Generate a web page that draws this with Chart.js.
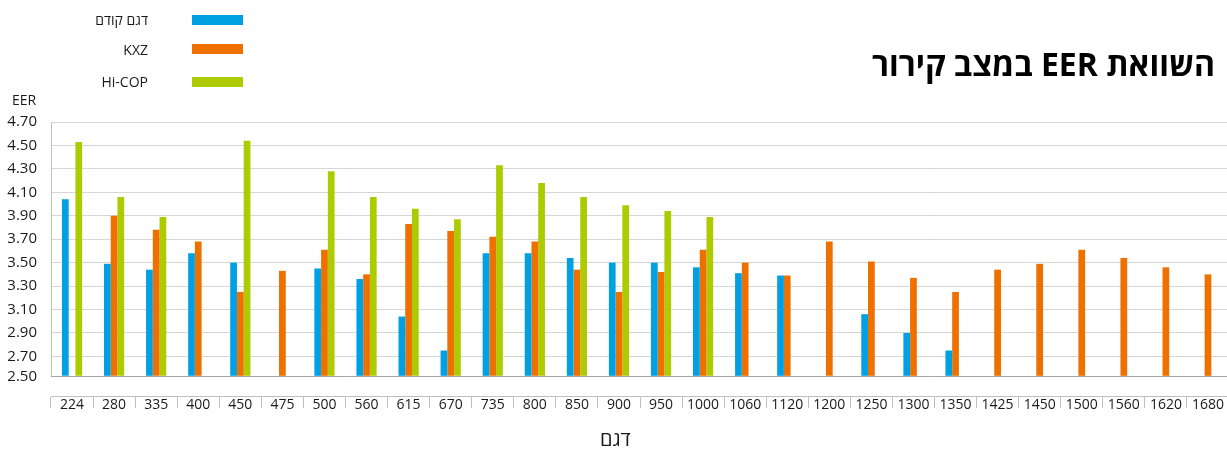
<!DOCTYPE html>
<html>
<head>
<meta charset="utf-8">
<script src="https://cdn.jsdelivr.net/npm/chart.js@4.4.1/dist/chart.umd.min.js"></script>
<style>
  html, body { margin: 0; padding: 0; background: #fff; overflow: hidden; width: 1227px; height: 450px; }
  #wrap { position: relative; width: 1232px; height: 450px; }
  #c { position: absolute; left: 0; top: 0; }
  .txt { position: absolute; font-family: 'Open Sans', 'DejaVu Sans', sans-serif; color: #1a1a1a; white-space: nowrap; }
  #title { right: 17px; top: 44px; font-size: 32px; font-weight: 700; direction: rtl; color: #000; line-height: 40px; }
  #eer { left: 12px; top: 91px; font-size: 14px; line-height: 18px; }
  #xtitle { left: 600px; top: 427px; font-size: 20px; line-height: 24px; direction: rtl; }
  .leg-t { width: 148px; left: 0; text-align: right; font-size: 14px; line-height: 18px; }
  .leg-b { position: absolute; left: 192px; width: 51px; height: 10px; }
</style>
</head>
<body>
<div id="wrap">
  <canvas id="c" width="1232" height="450"></canvas>
  <div class="txt" id="title">השוואת EER במצב קירור</div>
  <div class="txt" id="eer">EER</div>
  <div class="txt" id="xtitle">דגם</div>
  <div id="legend"></div>
</div>
<script>
const categories = ['224','280','335','400','450','475','500','560','615','670','735','800','850','900','950','1000','1060','1120','1200','1250','1300','1350','1425','1450','1500','1560','1620','1680'];
const seriesNames = ['דגם קודם', 'KXZ', 'Hi-COP'];
const previousModel = [4.04,3.49,3.44,3.58,3.50,null,3.45,3.36,3.04,2.75,3.58,3.58,3.54,3.50,3.50,3.46,3.41,3.39,null,3.06,2.90,2.75,null,null,null,null,null,null];
const kxz = [null,3.90,3.78,3.68,3.25,3.43,3.61,3.40,3.83,3.77,3.72,3.68,3.44,3.25,3.42,3.61,3.50,3.39,3.68,3.51,3.37,3.25,3.44,3.49,3.61,3.54,3.46,3.40];
const hiCop = [4.53,4.06,3.89,null,4.54,null,4.28,4.06,3.96,3.87,4.33,4.18,4.06,3.99,3.94,3.89,null,null,null,null,null,null,null,null,null,null,null,null];
const yTickValues = [2.53,2.70,2.90,3.10,3.30,3.50,3.70,3.90,4.10,4.30,4.50,4.70];
const yTickLabels = ['2.50','2.70','2.90','3.10','3.30','3.50','3.70','3.90','4.10','4.30','4.50','4.70'];
const axisBase = 2.53;
const colors = ['#00A0E3', '#EE7100', '#ADCB00'];

const FONT = "'Open Sans', 'DejaVu Sans', sans-serif";

// legend (HTML, generated from series names)
const legTops = [11, 41, 73];
const legBoxTops = [15, 44, 77];
const legend = document.getElementById('legend');
seriesNames.forEach((n, i) => {
  const t = document.createElement('div');
  t.className = 'txt leg-t';
  t.style.top = legTops[i] + 'px';
  t.textContent = n;
  if (/[\u0590-\u05FF]/.test(n)) t.style.direction = 'rtl';
  legend.appendChild(t);
  const b = document.createElement('div');
  b.className = 'leg-b';
  b.style.top = legBoxTops[i] + 'px';
  b.style.background = colors[i];
  legend.appendChild(b);
});

const leftLine = {
  id: 'leftLine',
  beforeDatasetsDraw(chart) {
    const { ctx, chartArea, scales } = chart;
    const yb = scales.y.getPixelForValue(axisBase);
    ctx.save();
    ctx.strokeStyle = '#bfbfbf';
    ctx.lineWidth = 1;
    ctx.beginPath();
    ctx.moveTo(Math.round(chartArea.left) + 0.5, chartArea.top);
    ctx.lineTo(Math.round(chartArea.left) + 0.5, yb);
    ctx.stroke();
    ctx.restore();
  }
};

const mk = (label, data, color) => ({
  label, data, backgroundColor: color, borderWidth: 0,
  base: axisBase, categoryPercentage: 0.48, barPercentage: 1.0
});

new Chart(document.getElementById('c'), {
  type: 'bar',
  data: {
    labels: categories,
    datasets: [
      mk(seriesNames[0], previousModel, colors[0]),
      mk(seriesNames[1], kxz, colors[1]),
      mk(seriesNames[2], hiCop, colors[2])
    ]
  },
  plugins: [leftLine],
  options: {
    responsive: false,
    animation: false,
    layout: { padding: { top: 122, left: 0, right: 3, bottom: 0 } },
    plugins: { legend: { display: false }, tooltip: { enabled: false }, title: { display: false } },
    scales: {
      x: {
        offset: true,
        grid: { offset: true, drawOnChartArea: false, drawTicks: true, tickLength: 12, color: '#bfbfbf' },
        border: { display: true, color: '#bfbfbf' },
        ticks: { font: { family: FONT, size: 14 }, color: '#1a1a1a', padding: -11, maxRotation: 0, autoSkip: false },
        afterFit(s) { s.height = 54; }
      },
      y: {
        min: 2.362,
        max: 4.7,
        afterBuildTicks(s) { s.ticks = yTickValues.map(v => ({ value: v })); },
        grid: {
          drawTicks: false,
          color: (ctx) => (ctx.tick && ctx.tick.value === axisBase) ? '#a6a6a6' : '#d6d6d6',
          lineWidth: 1
        },
        border: { display: false },
        ticks: {
          padding: 14,
          font: { family: FONT, size: 15 },
          color: '#1a1a1a',
          callback: (v, i) => yTickLabels[i]
        },
        afterFit(s) { s.width = 51; }
      }
    }
  }
});
</script>
</body>
</html>
